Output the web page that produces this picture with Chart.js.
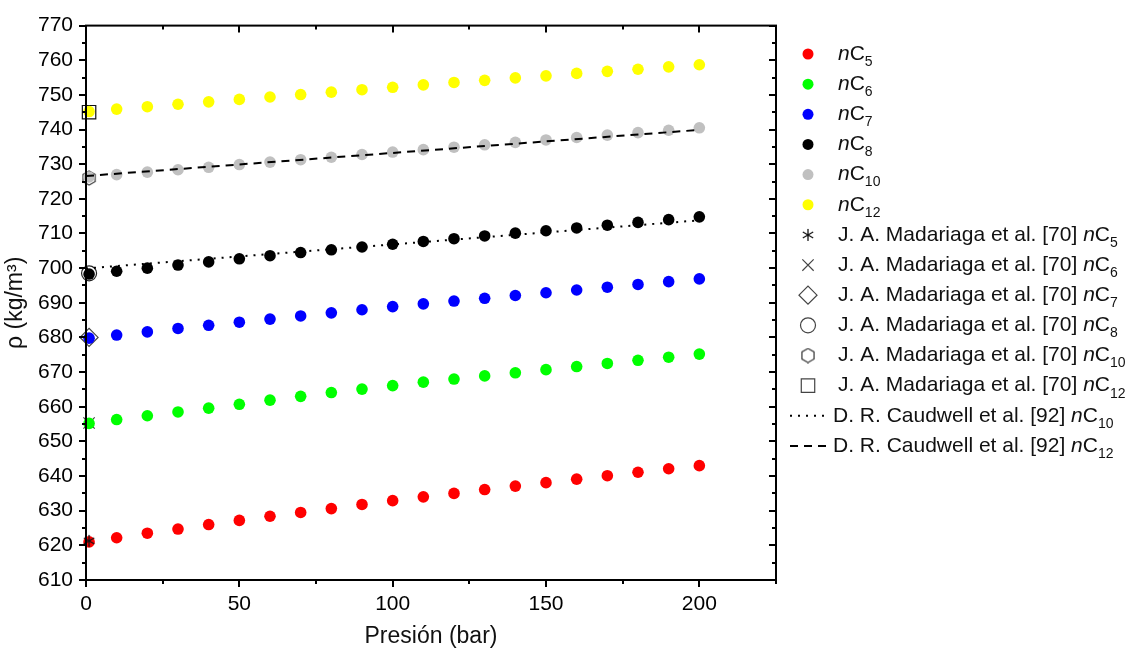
<!DOCTYPE html>
<html>
<head>
<meta charset="utf-8">
<script src="https://cdn.jsdelivr.net/npm/chart.js@4"></script>
<style>
  html, body { margin: 0; padding: 0; background: #fff; }
  #wrap { width: 1126px; height: 650px; position: relative; }
</style>
</head>
<body>
<div id="wrap"><canvas id="chart" width="1126" height="650"></canvas></div>
<script>
// --- Data ---
const pressures = [1, 10, 20, 30, 40, 50, 60, 70, 80, 90, 100, 110, 120, 130, 140, 150, 160, 170, 180, 190, 200];

const rhoC5  = [621.0, 622.2, 623.5, 624.7, 626.0, 627.2, 628.4, 629.5, 630.6, 631.8, 632.9, 634.0, 635.0, 636.1, 637.1, 638.1, 639.1, 640.1, 641.1, 642.1, 643.0];
const rhoC6  = [655.2, 656.3, 657.4, 658.5, 659.6, 660.7, 661.9, 663.0, 664.1, 665.1, 666.1, 667.1, 668.0, 668.9, 669.8, 670.7, 671.6, 672.5, 673.4, 674.3, 675.2];
const rhoC7  = [679.8, 680.7, 681.6, 682.6, 683.5, 684.4, 685.3, 686.2, 687.1, 688.0, 688.9, 689.7, 690.5, 691.3, 692.1, 692.9, 693.7, 694.5, 695.3, 696.1, 696.9];
const rhoC8  = [698.3, 699.1, 700.0, 700.9, 701.8, 702.7, 703.6, 704.5, 705.3, 706.1, 706.9, 707.7, 708.5, 709.3, 710.1, 710.8, 711.6, 712.4, 713.2, 714.0, 714.8];
const rhoC10 = [726.3, 727.0, 727.7, 728.4, 729.1, 729.9, 730.6, 731.3, 732.0, 732.8, 733.5, 734.2, 734.9, 735.6, 736.3, 737.0, 737.7, 738.4, 739.1, 739.8, 740.5];
const rhoC12 = [745.2, 745.9, 746.6, 747.3, 748.0, 748.7, 749.4, 750.1, 750.8, 751.5, 752.2, 752.9, 753.6, 754.2, 754.9, 755.5, 756.2, 756.8, 757.4, 758.1, 758.7];

// Madariaga et al. [70], at 1 bar
const madariagaP = 1;
const madariagaRho = [621.3, 655.3, 680.0, 698.5, 726.0, 745.0];

// Caudwell et al. [92] lines
const caudwellP = [0, 200];
const caudwellC10 = [699.9, 713.8];
const caudwellC12 = [726.6, 739.9];

const seriesNames = ['5', '6', '7', '8', '10', '12'];
const seriesColors = ['#ff0000', '#00ff00', '#0000ff', '#000000', '#c0c0c0', '#ffff00'];

const xTicks = [0, 50, 100, 150, 200];
const yMin = 610, yMax = 770, xMin = 0, xMax = 225;

const FONT = '"Liberation Sans", Arial, sans-serif';

// --- Custom markers (not built-in point styles) ---
function makeHexagon(size, color) {
    const c = document.createElement('canvas');
    c.width = size; c.height = size;
    const g = c.getContext('2d');
    const r = size / 2 - 1;
    g.strokeStyle = color;
    g.lineWidth = 1.3;
    g.beginPath();
    for (let i = 0; i < 6; i++) {
        const a = Math.PI / 6 + i * Math.PI / 3;
        const px = size / 2 + r * Math.cos(a);
        const py = size / 2 + r * Math.sin(a);
        if (i === 0) g.moveTo(px, py); else g.lineTo(px, py);
    }
    g.closePath();
    g.stroke();
    return c;
}

function makeAsterisk(size, color) {
    const c = document.createElement('canvas');
    c.width = size; c.height = size;
    const g = c.getContext('2d');
    const r = size / 2 - 1;
    g.strokeStyle = color;
    g.lineWidth = 1.3;
    g.beginPath();
    for (let i = 0; i < 3; i++) {
        const a = Math.PI / 2 + i * Math.PI / 3;
        g.moveTo(size / 2 + r * Math.cos(a), size / 2 + r * Math.sin(a));
        g.lineTo(size / 2 - r * Math.cos(a), size / 2 - r * Math.sin(a));
    }
    g.stroke();
    return c;
}

const hexagon = makeHexagon(16, '#444');
const asterisk = makeAsterisk(14, '#111');

const markStyles = [
    { style: asterisk, radius: 7, color: '#111' },
    { style: 'crossRot', radius: 8, color: '#444' },
    { style: 'rectRot', radius: 9, color: '#444' },
    { style: 'circle', radius: 7.5, color: '#222' },
    { style: hexagon, radius: 8, color: '#444' },
    { style: 'rect', radius: 9.5, color: '#111' }
];

function toXY(xs, ys) {
    return xs.map((x, i) => ({ x: x, y: ys[i] }));
}

// --- Datasets ---
const datasets = [];
seriesNames.forEach((n, i) => {
    datasets.push({
        label: 'nC' + n,
        data: toXY(pressures, [rhoC5, rhoC6, rhoC7, rhoC8, rhoC10, rhoC12][i]),
        showLine: false,
        pointStyle: 'circle',
        pointRadius: 5.8,
        pointBackgroundColor: seriesColors[i],
        pointBorderColor: seriesColors[i],
        pointBorderWidth: 0,
        clip: false,
        order: 2
    });
});
markStyles.forEach((m, i) => {
    datasets.push({
        label: 'J. A. Madariaga et al. [70] nC' + seriesNames[i],
        data: [{ x: madariagaP, y: madariagaRho[i] }],
        showLine: false,
        pointStyle: m.style,
        pointRadius: m.radius,
        pointBackgroundColor: 'rgba(0,0,0,0)',
        pointBorderColor: m.color,
        pointBorderWidth: 1.2,
        clip: false,
        order: i === 0 ? 0 : 3
    });
});
datasets.push({
    label: 'D. R. Caudwell et al. [92] nC10',
    data: toXY(caudwellP, caudwellC10),
    showLine: true,
    borderColor: '#000',
    borderWidth: 2,
    borderDash: [2, 6],
    pointRadius: 0,
    order: 1
});
datasets.push({
    label: 'D. R. Caudwell et al. [92] nC12',
    data: toXY(caudwellP, caudwellC12),
    showLine: true,
    borderColor: '#000',
    borderWidth: 2,
    borderDash: [8, 6],
    pointRadius: 0,
    order: 1
});

// --- Frame and Origin-style ticks ---
const framePlugin = {
    id: 'frame',
    afterDatasetsDraw(chart) {
        const { ctx, chartArea: a, scales } = chart;
        const xs = scales.x, ys = scales.y;
        ctx.save();
        ctx.strokeStyle = '#000';
        ctx.lineWidth = 2;
        ctx.strokeRect(a.left, a.top, a.right - a.left, a.bottom - a.top);
        ctx.beginPath();
        for (let v = xMin; v <= xMax; v += 25) {
            const px = Math.round(xs.getPixelForValue(v));
            const len = v % 50 === 0 ? 7 : 4;
            ctx.moveTo(px, a.bottom); ctx.lineTo(px, a.bottom + len);
            ctx.moveTo(px, a.top); ctx.lineTo(px, a.top + len);
        }
        for (let v = yMin; v <= yMax; v += 5) {
            const py = Math.round(ys.getPixelForValue(v));
            const len = v % 10 === 0 ? 7 : 4;
            ctx.moveTo(a.left, py); ctx.lineTo(a.left - len, py);
            ctx.moveTo(a.right, py); ctx.lineTo(a.right - len, py);
        }
        ctx.stroke();
        ctx.restore();
    }
};

// --- Legend drawn on the canvas ---
function drawLabel(ctx, x, y, prefix, sub) {
    ctx.font = '21px ' + FONT;
    ctx.fillText(prefix, x, y);
    x += ctx.measureText(prefix).width;
    ctx.font = 'italic 21px ' + FONT;
    ctx.fillText('n', x, y);
    x += ctx.measureText('n').width;
    ctx.font = '21px ' + FONT;
    ctx.fillText('C', x, y);
    x += ctx.measureText('C').width;
    ctx.font = '14px ' + FONT;
    ctx.fillText(sub, x, y + 8);
}

const legendPlugin = {
    id: 'sideLegend',
    afterDraw(chart) {
        const ctx = chart.ctx;
        const mx = 808, tx = 838, y0 = 54, step = 30.15;
        ctx.save();
        ctx.textBaseline = 'middle';
        let row = 0;
        seriesNames.forEach((n, i) => {
            const y = y0 + step * row++;
            ctx.fillStyle = seriesColors[i];
            ctx.beginPath();
            ctx.arc(mx, y, 5.5, 0, Math.PI * 2);
            ctx.fill();
            ctx.fillStyle = '#111';
            drawLabel(ctx, tx, y, '', n);
        });
        markStyles.forEach((m, i) => {
            const y = y0 + step * row++;
            ctx.strokeStyle = '#444';
            ctx.fillStyle = 'rgba(0,0,0,0)';
            ctx.lineWidth = 1.2;
            Chart.helpers.drawPoint(ctx, { pointStyle: m.style, radius: m.radius, borderWidth: 1.2, rotation: 0 }, mx, y);
            ctx.fillStyle = '#111';
            drawLabel(ctx, tx, y, 'J. A. Madariaga et al. [70] ', seriesNames[i]);
        });
        [[2, 6], [8, 6]].forEach((dash, i) => {
            const y = y0 + step * row++;
            ctx.strokeStyle = '#000';
            ctx.lineWidth = 2;
            ctx.setLineDash(dash);
            ctx.beginPath();
            ctx.moveTo(790, y); ctx.lineTo(830, y);
            ctx.stroke();
            ctx.setLineDash([]);
            ctx.fillStyle = '#111';
            drawLabel(ctx, 833, y, 'D. R. Caudwell et al. [92] ', i === 0 ? '10' : '12');
        });
        ctx.restore();
    }
};

// --- Chart ---
const ctx = document.getElementById('chart').getContext('2d');
new Chart(ctx, {
    type: 'scatter',
    data: { datasets: datasets },
    options: {
        responsive: false,
        animation: false,
        layout: { padding: { top: 22, right: 350, left: 0, bottom: 0 } },
        plugins: { legend: { display: false }, tooltip: { enabled: false } },
        scales: {
            x: {
                type: 'linear',
                min: xMin,
                max: xMax,
                afterBuildTicks: s => { s.ticks = xTicks.map(v => ({ value: v })); },
                afterFit: s => { s.height = 70; },
                grid: { display: false, drawTicks: false },
                border: { display: false },
                ticks: {
                    color: '#000',
                    padding: 12,
                    maxRotation: 0,
                    font: { family: FONT, size: 21 }
                },
                title: {
                    display: true,
                    text: 'Presión (bar)',
                    color: '#111',
                    padding: { top: 0, bottom: 0 },
                    font: { family: FONT, size: 23 }
                }
            },
            y: {
                min: yMin,
                max: yMax,
                ticks: {
                    stepSize: 10,
                    color: '#000',
                    padding: 13,
                    font: { family: FONT, size: 21 }
                },
                afterFit: s => { s.width = 86; },
                grid: { display: false, drawTicks: false },
                border: { display: false },
                title: {
                    display: true,
                    text: 'ρ (kg/m³)',
                    color: '#111',
                    padding: { bottom: 0, top: 2 },
                    font: { family: FONT, size: 23 }
                }
            }
        }
    },
    plugins: [framePlugin, legendPlugin]
});
</script>
</body>
</html>
